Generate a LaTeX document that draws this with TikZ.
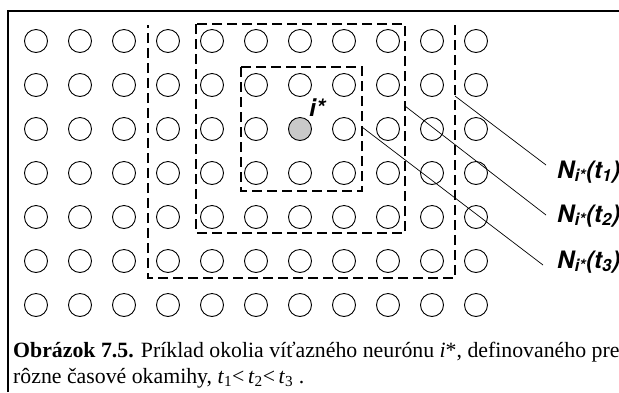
\documentclass[tikz,border=0pt]{standalone}
\usepackage{fontspec}
\setmainfont{Liberation Serif}
\newfontfamily\arialfont{TeX Gyre Heros}
\begin{document}
\begin{tikzpicture}[x=1pt,y=-1pt,
  neuron/.style={circle,draw=black,line width=0.9pt,minimum size=23pt,inner sep=0pt},
  winner/.style={neuron,fill=black!21},
  nbox/.style={line width=2pt,dash pattern=on 10pt off 5pt},
  leader/.style={line width=0.7pt},
  nlabel/.style={font=\arialfont\bfseries\itshape\fontsize{24}{27}\selectfont,anchor=base west,inner sep=0pt},
  captext/.style={font=\fontsize{21.8}{26}\selectfont,anchor=base west,inner sep=0pt},
  frame/.style={line width=2pt}]
\useasboundingbox (0,0) rectangle (619,392);
\clip (0,0) rectangle (619,392);
\fill[white] (0,0) rectangle (619,392);
\draw[frame] (8,392) -- (8,11) -- (619,11);
\foreach \r in {0,...,6}{
  \foreach \c in {0,...,10}{
    \ifnum\r=2 \ifnum\c=6 \def\sty{winner}\else\def\sty{neuron}\fi\else\def\sty{neuron}\fi
    \node[\sty] (n-\r-\c) at ({36+44*\c},{41+44*\r}) {};
  }
}
% neighbourhoods
\draw[nbox] (241,67) rectangle (362,191);
\draw[nbox] (196,24) rectangle (405,233);
\draw[nbox] (455,25) -- (455,278) -- (148,278) -- (148,25);
% winner label
\node[font=\arialfont\bfseries\itshape\fontsize{24}{26}\selectfont,anchor=base west,inner sep=0pt] (istar) at (309,116) {i*};
% labels
\node[nlabel] (l1) at (557,178) {N\textsubscript{i*}(t\textsubscript{1})};
\node[nlabel] (l2) at (557,222) {N\textsubscript{i*}(t\textsubscript{2})};
\node[nlabel] (l3) at (557,268) {N\textsubscript{i*}(t\textsubscript{3})};
\coordinate (s1) at (455,96);  \coordinate (e1) at (546,165);
\coordinate (s2) at (405,106); \coordinate (e2) at (546,215);
\coordinate (s3) at (362,127); \coordinate (e3) at (543,265);
\draw[leader] (s1) -- (e1);
\draw[leader] (s2) -- (e2);
\draw[leader] (s3) -- (e3);
% caption
\node[captext] (cap1) at (13,357) {\textbf{Obrázok 7.5.} Príklad okolia víťazného neurónu \textit{i}*, definovaného pre};
\node[captext] (cap2) at (13,383) {rôzne časové okamihy, \textit{t}\textsubscript{1}<\,\textit{t}\textsubscript{2}<\,\textit{t}\textsubscript{3} .};
\end{tikzpicture}
\end{document}
